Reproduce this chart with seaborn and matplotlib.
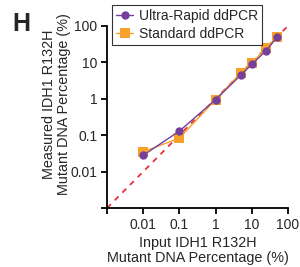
import numpy as np
import pandas as pd
import seaborn as sns
import matplotlib.pyplot as plt

# input mutant DNA percentage (%)
input_pct = [0.01, 0.1, 1, 5, 10, 25, 50]
# measured values
ultra_rapid = [0.028, 0.13, 0.95, 4.5, 8.8, 21, 49]
standard = [0.035, 0.083, 0.95, 5.2, 9.5, 25, 50]

identity = [0.001, 100]

sns.set_style("ticks")
plt.rcParams['font.family'] = ['Liberation Sans', 'DejaVu Sans']

fig = plt.figure(figsize=(3.0, 2.67), dpi=100)
ax = fig.add_axes([0.357, 0.221, 0.603, 0.682])

purple = "#74409A"
orange = "#F7A12A"

sns.lineplot(x=identity, y=identity, ax=ax, color="#E8303A",
             linestyle=(0, (3, 3)), linewidth=1.3)
sns.lineplot(x=input_pct, y=standard, ax=ax, color=orange, marker="s",
             markersize=6.5, markeredgewidth=0, linewidth=1.0,
             label="Standard ddPCR")
sns.lineplot(x=input_pct, y=ultra_rapid, ax=ax, color=purple, marker="o",
             markersize=6, markeredgewidth=0, linewidth=1.0,
             label="Ultra-Rapid ddPCR")

ax.set_xscale("log")
ax.set_yscale("log")
ax.set_xlim(0.001, 100)
ax.set_ylim(0.001, 100)

ticks = [0.001, 0.01, 0.1, 1, 10, 100]
labels = ["", "0.01", "0.1", "1", "10", "100"]
ax.set_xticks(ticks)
ax.set_xticklabels(labels)
ax.set_yticks(ticks)
ax.set_yticklabels(labels)
ax.minorticks_off()
ax.tick_params(labelsize=10, width=1.3, length=4, color="black", pad=3)

for s in ["left", "bottom"]:
    ax.spines[s].set_linewidth(1.3)
    ax.spines[s].set_color("black")
sns.despine(ax=ax)

ax.set_xlabel("Input IDH1 R132H\nMutant DNA Percentage (%)", fontsize=10.4,
              linespacing=1.1, labelpad=3)
ax.set_ylabel("Measured IDH1 R132H\nMutant DNA Percentage (%)", fontsize=10.4,
              linespacing=1.1)
ax.yaxis.set_label_coords(-0.2, 0.57)

handles, lbls = ax.get_legend_handles_labels()
leg = ax.legend(handles[::-1], lbls[::-1], loc="upper left",
                bbox_to_anchor=(0.028, 1.115), borderaxespad=0,
                fontsize=10, frameon=True,
                fancybox=False, edgecolor="black", handlelength=1.2,
                handletextpad=0.4, borderpad=0.3, labelspacing=0.25)
leg.get_frame().set_linewidth(0.8)

fig.text(0.04, 0.955, "H", fontsize=18, fontweight="bold", va="top")

fig.savefig("out.png", dpi=100)
